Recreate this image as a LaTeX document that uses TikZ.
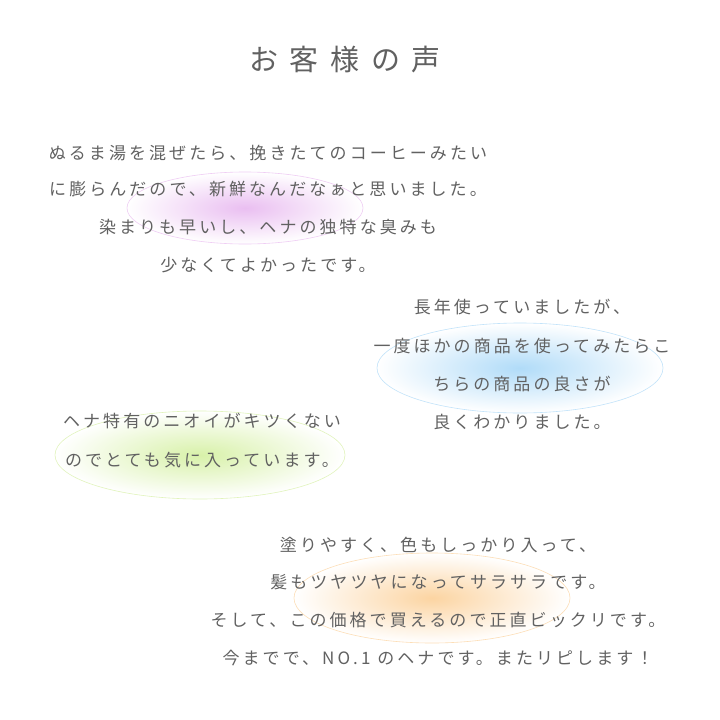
\documentclass[tikz,border=0pt]{standalone}
\usepackage{fontspec}
\setmainfont{Noto Sans CJK JP}[LetterSpace=18]
\newfontfamily\titlefont{Noto Sans CJK JP}[LetterSpace=40]
\begin{document}
\begin{tikzpicture}[x=1pt,y=-1pt,
  txt/.style={text=black!62,font=\fontsize{17}{20}\selectfont,inner sep=0pt,anchor=center},
  glow/.style={draw=#1!35,line width=0.6pt,inner color=#1!45,outer color=white}]
\useasboundingbox[fill=white] (0,0) rectangle (720,720);
\definecolor{gpur}{HTML}{D070E0}
\definecolor{gblu}{HTML}{50B0F0}
\definecolor{ggrn}{HTML}{A8E040}
\definecolor{gorg}{HTML}{F8A030}
\shade[glow=gpur] (245,208) ellipse (118 and 36);
\shade[glow=gblu] (520,368) ellipse (143 and 45);
\shade[glow=ggrn] (200,455) ellipse (145 and 44);
\shade[glow=gorg] (432,598) ellipse (138 and 45);
\node[txt,font=\titlefont\fontsize{29}{32}\selectfont] (title) at (345,60) {お客様の声};
\node[txt] (a1) at (268,153) {ぬるま湯を混ぜたら、挽きたてのコーヒーみたい};
\node[txt] (a2) at (268,189) {に膨らんだので、新鮮なんだなぁと思いました。};
\node[txt] (a3) at (268,227) {染まりも早いし、ヘナの独特な臭みも};
\node[txt] (a4) at (268,265) {少なくてよかったです。};
\node[txt] (b1) at (522,307) {長年使っていましたが、};
\node[txt] (b2) at (522,346) {一度ほかの商品を使ってみたらこ};
\node[txt] (b3) at (522,384) {ちらの商品の良さが};
\node[txt] (b4) at (522,422) {良くわかりました。};
\node[txt] (c1) at (202,421) {ヘナ特有のニオイがキツくない};
\node[txt] (c2) at (202,460) {のでとても気に入っています。};
\node[txt] (d1) at (438,545) {塗りやすく、色もしっかり入って、};
\node[txt] (d2) at (438,582) {髪もツヤツヤになってサラサラです。};
\node[txt] (d3) at (438,620) {そして、この価格で買えるので正直ビックリです。};
\node[txt] (d4) at (438,658) {今までで、NO.1 のヘナです。またリピします！};
\end{tikzpicture}
\end{document}
